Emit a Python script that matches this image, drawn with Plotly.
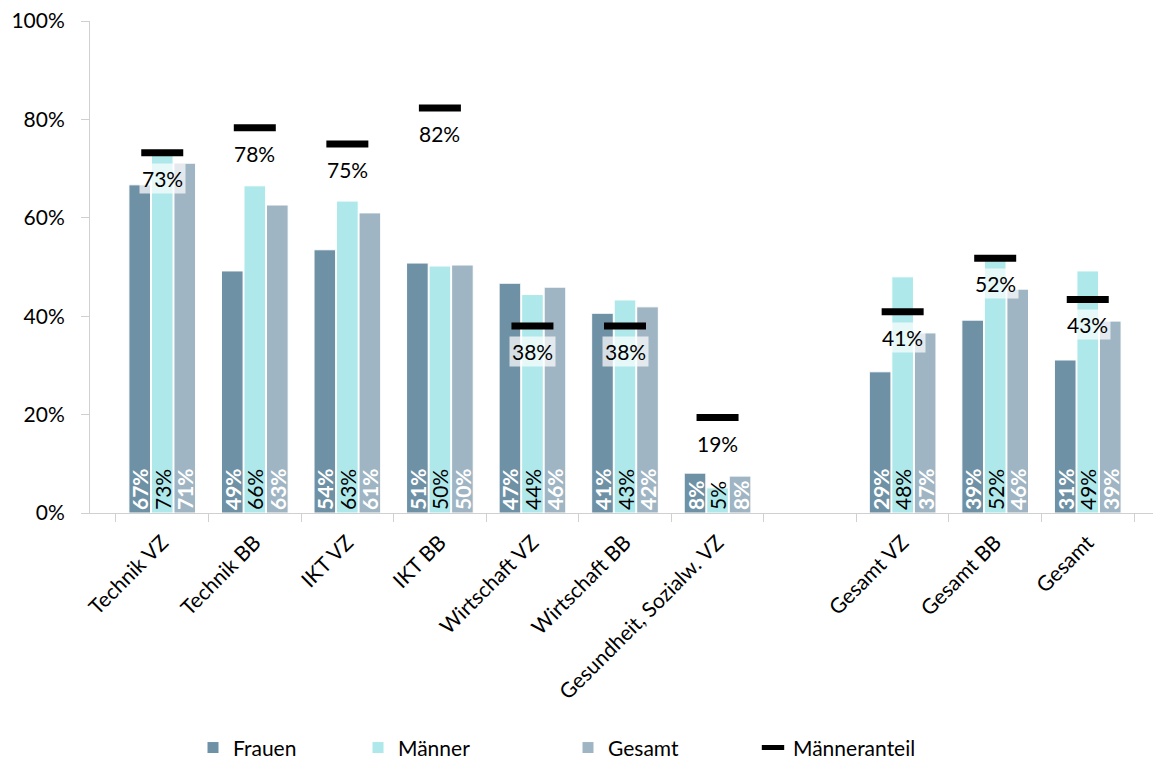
import plotly.graph_objects as go

categories = ["Technik VZ", "Technik BB", "IKT VZ", "IKT BB", "Wirtschaft VZ", "Wirtschaft BB",
              "Gesundheit, Sozialw. VZ", " ", "Gesamt VZ", "Gesamt BB", "Gesamt"]
frauen = [66.7, 49.2, 53.5, 50.8, 46.7, 40.6, 8.1, None, 28.7, 39.2, 31.1]
maenner = [73.0, 66.5, 63.4, 50.2, 44.4, 43.3, 5.1, None, 48.0, 52.0, 49.2]
gesamt = [71.1, 62.6, 61.0, 50.4, 45.9, 41.9, 7.5, None, 36.6, 45.5, 39.0]
maenneranteil = [73.2, 78.3, 75.0, 82.3, 38.0, 38.0, 19.4, None, 40.9, 51.8, 43.4]

FONT = "Lato, 'Open Sans', sans-serif"
W, H = 1153, 755

def lbl(vals, bold):
    out = []
    for v in vals:
        if v is None:
            out.append("")
        else:
            s = f"{v:.0f}%"
            out.append(f"<b>{s}</b>" if bold else s)
    return out

fig = go.Figure()
series = [("Frauen", frauen, "#6E91A5", "white", True, "legend"),
          ("Männer", maenner, "#AEE8EA", "black", False, "legend2"),
          ("Gesamt", gesamt, "#A0B5C3", "white", True, "legend3")]
for name, vals, col, tcol, bold, lg in series:
    fig.add_trace(go.Bar(
        name=name, x=categories, y=vals, marker=dict(color=col, line=dict(color="white", width=1)),
        text=lbl(vals, bold), textposition="inside", insidetextanchor="start", textangle=-90,
        constraintext="none", legend=lg,
        textfont=dict(color=tcol, size=21, family=FONT), cliponaxis=False,
    ))

fig.add_trace(go.Scatter(
    name="Männeranteil", x=categories, y=maenneranteil, mode="markers", legend="legend4",
    marker=dict(symbol="line-ew", size=30, line=dict(color="black", width=7), color="black"),
))

for c, v in zip(categories, maenneranteil):
    if v is None:
        continue
    fig.add_annotation(x=c, y=v, text=f"{v:.0f}%", showarrow=False, yanchor="top", yshift=-10,
                       font=dict(size=21, color="black", family=FONT),
                       bgcolor="rgba(255,255,255,0.7)", borderpad=2)

def leg(xpix):
    return dict(orientation="h", xref="container", x=xpix / W, xanchor="left",
                yref="container", y=0.02, yanchor="middle",
                font=dict(size=21, family=FONT), bgcolor="rgba(0,0,0,0)")

fig.update_layout(
    width=W, height=H,
    margin=dict(l=82, r=1, t=13, b=250),
    plot_bgcolor="white", paper_bgcolor="white",
    barmode="group", bargap=0.27, bargroupgap=0.04,
    font=dict(family=FONT, size=21, color="black"),
    showlegend=True,
    legend=leg(185), legend2=leg(350), legend3=leg(560), legend4=leg(745),
)
fig.update_xaxes(type="category", tickangle=-45, tickson="boundaries", ticks="outside", ticklen=8,
                 tickcolor="#D0D0D0", showline=True, linecolor="#D0D0D0", showgrid=False,
                 automargin=False, ticklabelstandoff=8, tickfont=dict(size=21, family=FONT))
fig.update_yaxes(range=[0, 100], dtick=20, ticksuffix="%", ticks="outside", ticklen=8,
                 tickcolor="#D0D0D0", showline=True, linecolor="#D0D0D0", showgrid=False,
                 zeroline=False, automargin=False, ticklabelstandoff=12, ticklabeloverflow="allow",
                 tickfont=dict(size=21, family=FONT))

fig.write_html("out.html")
